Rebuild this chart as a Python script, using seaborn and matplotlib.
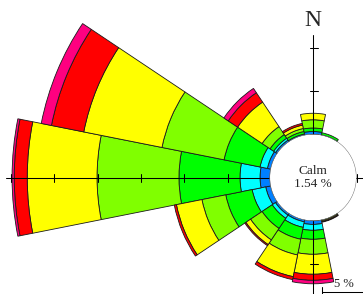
import matplotlib
matplotlib.use("Agg")
import matplotlib.pyplot as plt
import numpy as np
import seaborn as sns
from matplotlib.lines import Line2D
from matplotlib.patches import Circle
from matplotlib.transforms import IdentityTransform

# 16 compass sectors, clockwise from north
directions = ["N", "NNE", "NE", "ENE", "E", "ESE", "SE", "SSE",
              "S", "SSW", "SW", "WSW", "W", "WNW", "NW", "NNW"]
direction_deg = [0.0, 22.5, 45.0, 67.5, 90.0, 112.5, 135.0, 157.5,
                 180.0, 202.5, 225.0, 247.5, 270.0, 292.5, 315.0, 337.5]

# frequency (%) of each wind-speed class per sector, lowest class first
freq_class1 = [0.35, 0.05, 0, 0, 0, 0, 0, 0, 0.45, 0.25, 0.25, 0.60, 1.15, 0.40, 0.23, 0.15]
freq_class2 = [0, 0, 0, 0, 0, 0, 0, 0, 0.68, 0.65, 0.45, 1.60, 2.31, 0.87, 0.27, 0]
freq_class3 = [0.40, 0.25, 0, 0, 0, 0, 0, 0.05, 1.04, 1.40, 1.40, 3.10, 7.04, 4.23, 0.50, 0.30]
freq_class4 = [0.95, 0, 0, 0, 0, 0, 0, 0.05, 1.73, 1.85, 1.60, 2.80, 9.45, 7.30, 1.10, 0.35]
freq_class5 = [0.75, 0, 0, 0, 0, 0, 0, 0.12, 2.30, 2.55, 0.65, 3.00, 8.05, 9.20, 3.40, 0.40]
freq_class6 = [0, 0, 0, 0, 0, 0, 0, 0.08, 0.70, 0.35, 0.15, 0.25, 1.50, 3.80, 1.30, 0.20]
freq_class7 = [0, 0, 0, 0, 0, 0, 0, 0, 0.40, 0, 0, 0, 0.25, 1.20, 0.60, 0]
class_colors = ["#0080ff", "#00ffff", "#00ff00", "#80ff00", "#ffff00", "#ff0000", "#ff0080"]

calm_pct = 1.54
ring_ticks = [0, 5, 10, 15, 20, 25, 30]

# layout in pixels
W_PX, H_PX, DPI = 363, 294, 100
CX, CY = 313.0, 177.5      # rose centre, measured from top-left
R_CALM = 43.0              # calm circle radius
PX_PER_PCT = 8.67
HALF = 330.0               # half-size of the (mostly off-canvas) polar axes
TICK_HALF = 4.0            # tick half-length, px

sns.set_theme(style="white")
plt.rcParams["font.family"] = ["Liberation Serif", "DejaVu Serif"]

fig = plt.figure(figsize=(W_PX / DPI, H_PX / DPI), dpi=DPI)
ax = fig.add_axes([(CX - HALF) / W_PX, (H_PX - CY - HALF) / H_PX,
                   2 * HALF / W_PX, 2 * HALF / H_PX], projection="polar")
ax.set_theta_zero_location("N")
ax.set_theta_direction(-1)
rorigin = -R_CALM / PX_PER_PCT
ax.set_rorigin(rorigin)
ax.set_rlim(0, HALF / PX_PER_PCT + rorigin)
ax.axis("off")

palette = sns.color_palette(class_colors)
classes = [freq_class1, freq_class2, freq_class3, freq_class4,
           freq_class5, freq_class6, freq_class7]
theta = np.radians(direction_deg)
width = np.radians(22.5)
bottom = np.zeros(len(directions))
for freq, col in zip(classes, palette):
    freq = np.asarray(freq, dtype=float)
    keep = freq > 0
    ax.bar(theta[keep], freq[keep], width=width, bottom=bottom[keep],
           color=col, edgecolor="#1a1a1a", linewidth=0.6, zorder=2)
    bottom += freq

# cross-hair axes with 5 % ticks
for ang, rmax in [(270, 30.5), (90, 30.5), (180, 30.5), (0, 11.5)]:
    t = np.radians(ang)
    ax.plot([t, t], [0, rmax], color="black", lw=0.75, zorder=5)
    horizontal = ang in (90, 270)
    for v in ring_ticks:
        if v > rmax:
            continue
        px, py = ax.transData.transform((t, v))
        px, py = round(px) + 0.5, round(py) + 0.5
        if horizontal:
            xs, ys = [px, px], [py - TICK_HALF, py + TICK_HALF]
        else:
            xs, ys = [px - TICK_HALF, px + TICK_HALF], [py, py]
        ax.add_line(Line2D(xs, ys, transform=IdentityTransform(),
                           color="black", lw=0.75, zorder=5))

ax.text(0, (CY - 20 - R_CALM) / PX_PER_PCT, "N", ha="center", va="center",
        fontsize=17, zorder=6)

# calm circle
ax.add_patch(Circle((0.5, 0.5), R_CALM / (2 * HALF), transform=ax.transAxes,
                    facecolor="white", edgecolor="#808080", lw=0.8, zorder=10))
ax.text(0.5, 0.5, f"Calm\n{calm_pct:.2f} %", transform=ax.transAxes,
        ha="center", va="center", fontsize=9.5, zorder=11)

# 5 % scale bar, bottom right
x0, yb = 322.0, 292.0
x1 = x0 + 5 * PX_PER_PCT
fx = lambda px: px / W_PX
fy = lambda py: 1 - py / H_PX
fig.add_artist(Line2D([fx(x0), fx(x1)], [fy(yb), fy(yb)], color="black", lw=0.75))
fig.add_artist(Line2D([fx(x0), fx(x0)], [fy(yb - 5), fy(yb + 1.5)], color="black", lw=0.75))
fig.text(fx((x0 + x1) / 2), fy(284), "5 %", ha="center", va="center", fontsize=9)

fig.savefig("out.png", dpi=DPI, facecolor="white")
